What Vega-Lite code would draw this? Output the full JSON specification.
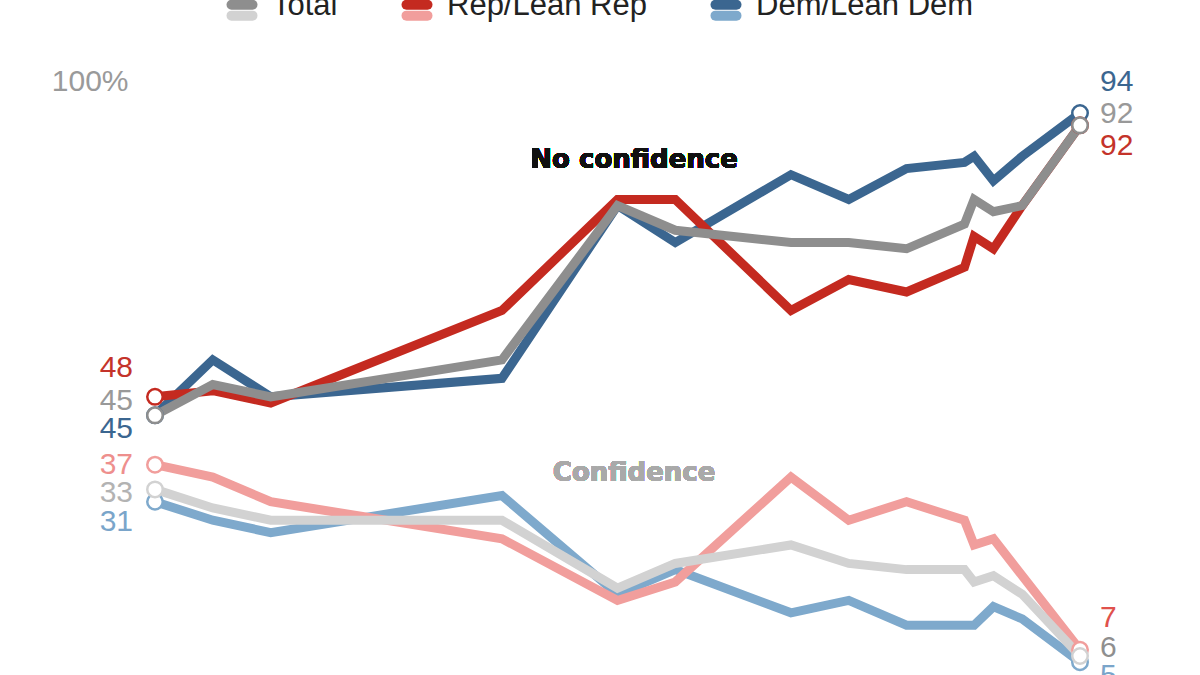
{
  "$schema": "https://vega.github.io/schema/vega-lite/v6.json",
  "width": 925,
  "height": 599,
  "autosize": {"type": "none"},
  "padding": {"left": 155, "top": 76, "right": 120, "bottom": 0},
  "background": "#ffffff",
  "config": {"view": {"stroke": null}},
  "data": {
    "values": [
      {"date": "2006-04-01", "group": "Dem/Lean Dem", "no_confidence": 45, "confidence": 31},
      {"date": "2007-04-01", "group": "Dem/Lean Dem", "no_confidence": 54, "confidence": 28},
      {"date": "2008-04-01", "group": "Dem/Lean Dem", "no_confidence": 48, "confidence": 26},
      {"date": "2012-04-01", "group": "Dem/Lean Dem", "no_confidence": 51, "confidence": 32},
      {"date": "2014-04-01", "group": "Dem/Lean Dem", "no_confidence": 79, "confidence": 16},
      {"date": "2015-04-01", "group": "Dem/Lean Dem", "no_confidence": 73, "confidence": 20},
      {"date": "2017-04-01", "group": "Dem/Lean Dem", "no_confidence": 84, "confidence": 13},
      {"date": "2018-04-01", "group": "Dem/Lean Dem", "no_confidence": 80, "confidence": 15},
      {"date": "2019-04-01", "group": "Dem/Lean Dem", "no_confidence": 85, "confidence": 11},
      {"date": "2020-04-01", "group": "Dem/Lean Dem", "no_confidence": 86, "confidence": 11},
      {"date": "2020-06-01", "group": "Dem/Lean Dem", "no_confidence": 87, "confidence": 11},
      {"date": "2020-10-01", "group": "Dem/Lean Dem", "no_confidence": 83, "confidence": 14},
      {"date": "2021-04-01", "group": "Dem/Lean Dem", "no_confidence": 87, "confidence": 12},
      {"date": "2022-04-01", "group": "Dem/Lean Dem", "no_confidence": 94, "confidence": 5},
      {"date": "2006-04-01", "group": "Rep/Lean Rep", "no_confidence": 48, "confidence": 37},
      {"date": "2007-04-01", "group": "Rep/Lean Rep", "no_confidence": 49, "confidence": 35},
      {"date": "2008-04-01", "group": "Rep/Lean Rep", "no_confidence": 47, "confidence": 31},
      {"date": "2012-04-01", "group": "Rep/Lean Rep", "no_confidence": 62, "confidence": 25},
      {"date": "2014-04-01", "group": "Rep/Lean Rep", "no_confidence": 80, "confidence": 15},
      {"date": "2015-04-01", "group": "Rep/Lean Rep", "no_confidence": 80, "confidence": 18},
      {"date": "2017-04-01", "group": "Rep/Lean Rep", "no_confidence": 62, "confidence": 35},
      {"date": "2018-04-01", "group": "Rep/Lean Rep", "no_confidence": 67, "confidence": 28},
      {"date": "2019-04-01", "group": "Rep/Lean Rep", "no_confidence": 65, "confidence": 31},
      {"date": "2020-04-01", "group": "Rep/Lean Rep", "no_confidence": 69, "confidence": 28},
      {"date": "2020-06-01", "group": "Rep/Lean Rep", "no_confidence": 74, "confidence": 24},
      {"date": "2020-10-01", "group": "Rep/Lean Rep", "no_confidence": 72, "confidence": 25},
      {"date": "2021-04-01", "group": "Rep/Lean Rep", "no_confidence": 79, "confidence": 19},
      {"date": "2022-04-01", "group": "Rep/Lean Rep", "no_confidence": 92, "confidence": 7},
      {"date": "2006-04-01", "group": "Total", "no_confidence": 45, "confidence": 33},
      {"date": "2007-04-01", "group": "Total", "no_confidence": 50, "confidence": 30},
      {"date": "2008-04-01", "group": "Total", "no_confidence": 48, "confidence": 28},
      {"date": "2012-04-01", "group": "Total", "no_confidence": 54, "confidence": 28},
      {"date": "2014-04-01", "group": "Total", "no_confidence": 79, "confidence": 17},
      {"date": "2015-04-01", "group": "Total", "no_confidence": 75, "confidence": 21},
      {"date": "2017-04-01", "group": "Total", "no_confidence": 73, "confidence": 24},
      {"date": "2018-04-01", "group": "Total", "no_confidence": 73, "confidence": 21},
      {"date": "2019-04-01", "group": "Total", "no_confidence": 72, "confidence": 20},
      {"date": "2020-04-01", "group": "Total", "no_confidence": 76, "confidence": 20},
      {"date": "2020-06-01", "group": "Total", "no_confidence": 80, "confidence": 18},
      {"date": "2020-10-01", "group": "Total", "no_confidence": 78, "confidence": 19},
      {"date": "2021-04-01", "group": "Total", "no_confidence": 79, "confidence": 16},
      {"date": "2022-04-01", "group": "Total", "no_confidence": 92, "confidence": 6}
    ]
  },
  "transform": [
    {"window": [{"op": "row_number", "as": "rn"}], "sort": [{"field": "date"}], "groupby": ["group"]},
    {"joinaggregate": [{"op": "count", "as": "n"}], "groupby": ["group"]}
  ],
  "encoding": {
    "x": {"field": "date", "type": "temporal", "axis": null, "scale": {"nice": false, "padding": 0}}
  },
  "layer": [
    {
      "mark": {"type": "line", "strokeWidth": 9, "strokeJoin": "miter"},
      "encoding": {
        "y": {
          "field": "no_confidence", "type": "quantitative",
          "scale": {"domain": [2.92, 100], "nice": false, "zero": false},
          "axis": {"values": [100], "labelExpr": "'100%'", "domain": false, "ticks": false, "tickSize": 0, "grid": false, "title": null,
                   "labelFont": "Liberation Sans", "labelFontSize": 30, "labelColor": "#9a9a9a", "labelPadding": 27, "labelOffset": 5}
        },
        "color": {
          "field": "group", "type": "nominal",
          "scale": {"domain": ["Total", "Rep/Lean Rep", "Dem/Lean Dem"], "range": ["#8e8e8e", "#c42a20", "#3b6690"]},
          "legend": {
            "orient": "none", "legendX": 67, "legendY": -90, "direction": "horizontal", "title": null, "padding": 0,
            "labelFont": "Liberation Sans", "labelFontSize": 31, "labelColor": "#222222", "labelOffset": 10,
            "columnPadding": 48, "labelLimit": 0,
            "symbolType": "M-0.7,-0.1H0.7", "symbolSize": 900, "symbolStrokeWidth": 10, "symbolOpacity": 1,
            "encode": {"symbols": {"update": {"strokeCap": {"value": "round"}}}}
          }
        }
      }
    },
    {
      "mark": {"type": "line", "strokeWidth": 9, "strokeJoin": "miter"},
      "encoding": {
        "y": {"field": "confidence", "type": "quantitative"},
        "color": {
          "field": "group", "type": "nominal",
          "scale": {"domain": ["Total", "Rep/Lean Rep", "Dem/Lean Dem"], "range": ["#d2d2d2", "#f19e9c", "#7ea9cc"]},
          "legend": {
            "orient": "none", "legendX": 67, "legendY": -90, "direction": "horizontal", "title": null, "padding": 0,
            "labelFont": "Liberation Sans", "labelFontSize": 31, "labelColor": "transparent", "labelOffset": 10,
            "columnPadding": 48, "labelLimit": 0,
            "symbolType": "M-0.7,0.62H0.7", "symbolSize": 900, "symbolStrokeWidth": 10, "symbolOpacity": 1,
            "encode": {"symbols": {"update": {"strokeCap": {"value": "round"}}}}
          }
        }
      }
    },
    {
      "transform": [{"filter": "datum.rn == 1 || datum.rn == datum.n"}],
      "mark": {"type": "point", "shape": "circle", "size": 240, "fill": "#ffffff", "filled": true, "opacity": 1, "strokeWidth": 2.5},
      "encoding": {
        "y": {"field": "no_confidence", "type": "quantitative"},
        "stroke": {
          "field": "group", "type": "nominal", "legend": null,
          "scale": {"domain": ["Total", "Rep/Lean Rep", "Dem/Lean Dem"], "range": ["#8e8e8e", "#c42a20", "#3b6690"]}
        }
      }
    },
    {
      "transform": [{"filter": "datum.rn == 1 || datum.rn == datum.n"}],
      "mark": {"type": "point", "shape": "circle", "size": 240, "fill": "#ffffff", "filled": true, "opacity": 1, "strokeWidth": 2.5},
      "encoding": {
        "y": {"field": "confidence", "type": "quantitative"},
        "stroke": {
          "field": "group", "type": "nominal", "legend": null,
          "scale": {"domain": ["Total", "Rep/Lean Rep", "Dem/Lean Dem"], "range": ["#d2d2d2", "#f19e9c", "#7ea9cc"]}
        }
      }
    },
    {
      "transform": [{"filter": "datum.rn == 1 && datum.group == 'Rep/Lean Rep'"}],
      "mark": {"type": "text", "align": "right", "baseline": "middle", "dx": -22, "dy": -29, "font": "Liberation Sans", "fontSize": 30, "color": "#c4332a"},
      "encoding": {"y": {"field": "no_confidence", "type": "quantitative"}, "text": {"field": "no_confidence"}}
    },
    {
      "transform": [{"filter": "datum.rn == 1 && datum.group == 'Total'"}],
      "mark": {"type": "text", "align": "right", "baseline": "middle", "dx": -22, "dy": -14, "font": "Liberation Sans", "fontSize": 30, "color": "#999999"},
      "encoding": {"y": {"field": "no_confidence", "type": "quantitative"}, "text": {"field": "no_confidence"}}
    },
    {
      "transform": [{"filter": "datum.rn == 1 && datum.group == 'Dem/Lean Dem'"}],
      "mark": {"type": "text", "align": "right", "baseline": "middle", "dx": -22, "dy": 14, "font": "Liberation Sans", "fontSize": 30, "color": "#3b6690"},
      "encoding": {"y": {"field": "no_confidence", "type": "quantitative"}, "text": {"field": "no_confidence"}}
    },
    {
      "transform": [{"filter": "datum.rn == 1 && datum.group == 'Rep/Lean Rep'"}],
      "mark": {"type": "text", "align": "right", "baseline": "middle", "dx": -22, "dy": 0, "font": "Liberation Sans", "fontSize": 30, "color": "#ee8f8d"},
      "encoding": {"y": {"field": "confidence", "type": "quantitative"}, "text": {"field": "confidence"}}
    },
    {
      "transform": [{"filter": "datum.rn == 1 && datum.group == 'Total'"}],
      "mark": {"type": "text", "align": "right", "baseline": "middle", "dx": -22, "dy": 4, "font": "Liberation Sans", "fontSize": 30, "color": "#b3b3b3"},
      "encoding": {"y": {"field": "confidence", "type": "quantitative"}, "text": {"field": "confidence"}}
    },
    {
      "transform": [{"filter": "datum.rn == 1 && datum.group == 'Dem/Lean Dem'"}],
      "mark": {"type": "text", "align": "right", "baseline": "middle", "dx": -22, "dy": 20, "font": "Liberation Sans", "fontSize": 30, "color": "#7aa5ca"},
      "encoding": {"y": {"field": "confidence", "type": "quantitative"}, "text": {"field": "confidence"}}
    },
    {
      "transform": [{"filter": "datum.rn == datum.n && datum.group == 'Dem/Lean Dem'"}],
      "mark": {"type": "text", "align": "left", "baseline": "middle", "dx": 20, "dy": -31, "font": "Liberation Sans", "fontSize": 30, "color": "#3b6690"},
      "encoding": {"y": {"field": "no_confidence", "type": "quantitative"}, "text": {"field": "no_confidence"}}
    },
    {
      "transform": [{"filter": "datum.rn == datum.n && datum.group == 'Total'"}],
      "mark": {"type": "text", "align": "left", "baseline": "middle", "dx": 20, "dy": -11, "font": "Liberation Sans", "fontSize": 30, "color": "#999999"},
      "encoding": {"y": {"field": "no_confidence", "type": "quantitative"}, "text": {"field": "no_confidence"}}
    },
    {
      "transform": [{"filter": "datum.rn == datum.n && datum.group == 'Rep/Lean Rep'"}],
      "mark": {"type": "text", "align": "left", "baseline": "middle", "dx": 20, "dy": 21, "font": "Liberation Sans", "fontSize": 30, "color": "#c4332a"},
      "encoding": {"y": {"field": "no_confidence", "type": "quantitative"}, "text": {"field": "no_confidence"}}
    },
    {
      "transform": [{"filter": "datum.rn == datum.n && datum.group == 'Rep/Lean Rep'"}],
      "mark": {"type": "text", "align": "left", "baseline": "middle", "dx": 20, "dy": -32, "font": "Liberation Sans", "fontSize": 30, "color": "#e0514c"},
      "encoding": {"y": {"field": "confidence", "type": "quantitative"}, "text": {"field": "confidence"}}
    },
    {
      "transform": [{"filter": "datum.rn == datum.n && datum.group == 'Total'"}],
      "mark": {"type": "text", "align": "left", "baseline": "middle", "dx": 20, "dy": -8, "font": "Liberation Sans", "fontSize": 30, "color": "#8f8f8f"},
      "encoding": {"y": {"field": "confidence", "type": "quantitative"}, "text": {"field": "confidence"}}
    },
    {
      "transform": [{"filter": "datum.rn == datum.n && datum.group == 'Dem/Lean Dem'"}],
      "mark": {"type": "text", "align": "left", "baseline": "middle", "dx": 20, "dy": 14, "font": "Liberation Sans", "fontSize": 30, "color": "#7aa5ca"},
      "encoding": {"y": {"field": "confidence", "type": "quantitative"}, "text": {"field": "confidence"}}
    },
    {
      "mark": {"type": "text", "align": "center", "baseline": "middle", "font": "DejaVu Sans", "fontWeight": "bold", "fontSize": 26, "color": "#111111", "text": "No confidence"},
      "encoding": {
        "x": {"datum": {"year": 2014, "month": 7, "date": 15}, "type": "temporal"},
        "y": {"datum": 86.4, "type": "quantitative"}
      }
    },
    {
      "mark": {"type": "text", "align": "center", "baseline": "middle", "font": "DejaVu Sans", "fontWeight": "bold", "fontSize": 26, "color": "#a9a9a9", "text": "Confidence"},
      "encoding": {
        "x": {"datum": {"year": 2014, "month": 7, "date": 15}, "type": "temporal"},
        "y": {"datum": 35.7, "type": "quantitative"}
      }
    }
  ],
  "resolve": {"scale": {"color": "independent", "stroke": "independent"}}
}
